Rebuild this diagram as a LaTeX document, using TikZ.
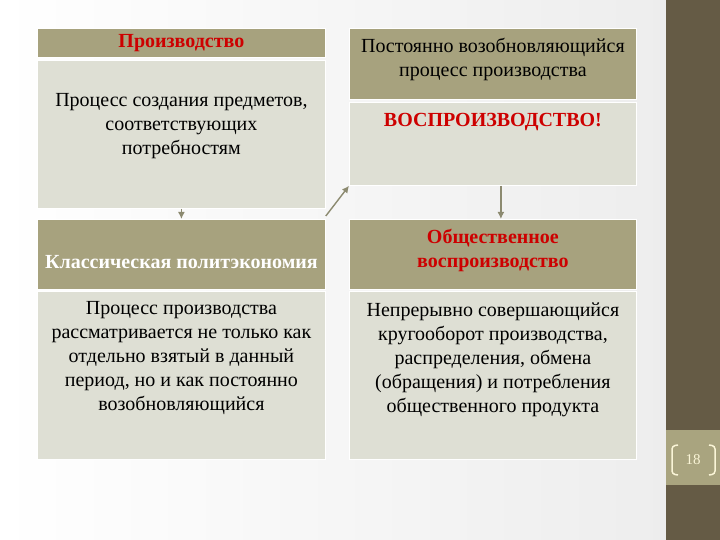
\documentclass[tikz,border=0pt]{standalone}
\usepackage{fontspec}
\setmainfont{Liberation Serif}
\usetikzlibrary{positioning,arrows.meta}
\definecolor{olivehead}{RGB}{167,162,126}
\definecolor{bodygray}{RGB}{222,223,212}
\definecolor{titlered}{RGB}{205,0,0}
\definecolor{stripbrown}{RGB}{101,91,69}
\definecolor{bandolive}{RGB}{169,164,127}
\definecolor{arrowgray}{RGB}{140,138,112}
\definecolor{bracketcream}{RGB}{250,245,215}

\tikzset{
  box/.style={draw=white, line width=0.8pt, inner sep=0pt, anchor=north west},
  head/.style={box, fill=olivehead},
  body/.style={box, fill=bodygray},
  txt/.style={align=center, inner sep=0pt, font=\fontsize{20}{24}\selectfont},
  hdr/.style={align=center, inner sep=0pt, font=\bfseries\fontsize{20}{24}\selectfont},
  link/.style={draw=arrowgray, line width=1.4pt, -{Latex[length=7pt,width=7pt]}}
}

\begin{document}
\begin{tikzpicture}[x=1pt,y=-1pt]
  \useasboundingbox (0,0) rectangle (720,540);
  % background and side strip
  \shade[left color=white, right color=black!7] (0,0) rectangle (666,540);
  \fill[stripbrown] (666,0) rectangle (720,540);
  \fill[bandolive] (666,430) rectangle (720,485);

  % left column
  \node[head, minimum width=288pt, minimum height=29pt] (h1) at (37,28) {};
  \node[body, minimum width=288pt, minimum height=148pt] (b1) at (37,60) {};
  \node[head, minimum width=288pt, minimum height=70pt] (h2) at (37,219) {};
  \node[body, minimum width=288pt, minimum height=168pt] (b2) at (37,291) {};
  \node[hdr, text=titlered] (h1t) at (h1.center) {Производство};
  \node[txt, below=33pt of b1.north] (b1t) {Процесс создания предметов,\\соответствующих\\потребностям};
  \node[hdr, text=white] (h2t) at ([yshift=-8pt]h2.center) {Классическая политэкономия};
  \node[txt, below=10pt of b2.north] (b2t) {Процесс производства\\рассматривается не только как\\отдельно взятый в данный\\период, но и как постоянно\\возобновляющийся};

  % right column
  \node[head, minimum width=287pt, minimum height=71pt] (rh1) at (349,28) {};
  \node[body, minimum width=287pt, minimum height=83pt] (rb1) at (349,102) {};
  \node[head, minimum width=287pt, minimum height=70pt] (rh2) at (349,219) {};
  \node[body, minimum width=287pt, minimum height=168pt] (rb2) at (349,291) {};
  \node[txt] (rh1t) at ([yshift=4pt]rh1.center) {Постоянно возобновляющийся\\процесс производства};
  \node[hdr, text=titlered, below=11pt of rb1.north] (rb1t) {ВОСПРОИЗВОДСТВО!};
  \node[hdr, text=titlered] (rh2t) at ([yshift=4pt]rh2.center) {Общественное\\воспроизводство};
  \node[txt, below=12pt of rb2.north] (rb2t) {Непрерывно совершающийся\\кругооборот производства,\\распределения, обмена\\(обращения) и потребления\\общественного продукта};

  % arrows
  \draw[link] (b1.south) -- (h2.north);
  \draw[link] ([xshift=8pt]rb1.south) -- ([xshift=8pt]rh2.north);
  \draw[link] ([yshift=3pt]h2.north east) -- (rb1.south west);

  % page number
  \node[text=bracketcream, font=\fontsize{15}{15}\selectfont] (pg) at (693,460) {18};
  \draw[bracketcream, line width=1.5pt, rounded corners=3pt] (678,445) -- (672,446) -- (672,474) -- (678,475);
  \draw[bracketcream, line width=1.5pt, rounded corners=3pt] (709,445) -- (715,446) -- (715,474) -- (709,475);
\end{tikzpicture}
\end{document}
